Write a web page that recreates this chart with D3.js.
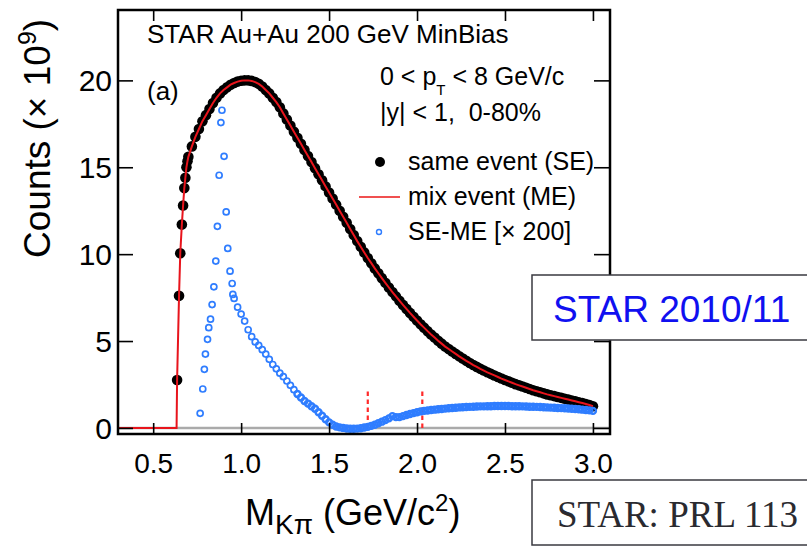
<!DOCTYPE html>
<meta charset="utf-8">
<body style="margin:0;background:#fff">
<script src="https://d3js.org/d3.v7.min.js"></script>
<script>

var width = 807,
    height = 546,
    margin = {top: 10, right: 197, bottom: 112, left: 118};

// same event (SE): first bins near threshold read one by one, then every 20 MeV
var seRiseMass = [0.636, 0.647, 0.654, 0.663, 0.670, 0.677, 0.683, 0.689, 0.695];
var seRiseCounts = [2.76, 7.6, 10.05, 11.7, 12.8, 13.8, 14.4, 15.0, 15.35];
var seStart = 0.70, seStep = 0.02;
var seCounts = [
  15.6, 16.2, 16.75, 17.2, 17.65, 18.0, 18.35, 18.7, 19.0, 19.25,
  19.45, 19.6, 19.75, 19.85, 19.93, 19.98, 20.0, 20.0, 19.97, 19.9,
  19.8, 19.65, 19.45, 19.25, 19.0, 18.75, 18.45, 18.1, 17.75, 17.4,
  17.05, 16.7, 16.35, 16.0, 15.65, 15.3, 14.95, 14.6, 14.25, 13.9,
  13.55, 13.2, 12.85, 12.5, 12.15, 11.8, 11.45, 11.1, 10.75, 10.42,
  10.1, 9.78, 9.48, 9.18, 8.9, 8.62, 8.35, 8.08, 7.82, 7.57,
  7.32, 7.08, 6.85, 6.62, 6.4, 6.18, 5.97, 5.77, 5.57, 5.38,
  5.2, 5.02, 4.85, 4.68, 4.54, 4.40, 4.26, 4.12, 3.99, 3.86,
  3.74, 3.62, 3.51, 3.40, 3.30, 3.20, 3.11, 3.02, 2.93, 2.84,
  2.76, 2.68, 2.60, 2.52, 2.45, 2.38, 2.31, 2.24, 2.17, 2.11,
  2.05, 1.99, 1.93, 1.88, 1.83, 1.78, 1.73, 1.68, 1.63, 1.58,
  1.53, 1.48, 1.43, 1.38, 1.32, 1.25
];

// mix event (ME): zero below the K-pi threshold, then follows SE
var meLowMass = [0.30, 0.633];
var meLowCounts = [0, 0];

// SE-ME [x 200]: K*(892) peak bins, then every 20 MeV
var diffPeakMass = [0.767, 0.782, 0.791, 0.797, 0.809, 0.816, 0.826, 0.835, 0.845, 0.856,
  0.865, 0.875, 0.885, 0.891, 0.903, 0.915, 0.924, 0.937, 0.949, 0.953];
var diffPeakCounts = [0.84, 2.24, 3.37, 4.25, 5.1, 5.77, 6.26, 7.1, 8.12, 9.6,
  11.6, 14.54, 17.57, 18.28, 15.63, 12.43, 10.33, 9.02, 8.31, 7.68];
var diffStart = 0.96, diffStep = 0.02;
var diffCounts = [
  7.45, 6.95, 6.55, 6.15, 5.65, 5.25, 4.95, 4.75, 4.5, 4.25,
  3.95, 3.65, 3.4, 3.15, 2.95, 2.7, 2.45, 2.2, 1.95, 1.75,
  1.55, 1.4, 1.25, 1.1, 0.9, 0.7, 0.5, 0.32, 0.18, 0.08,
  0.03, 0.0, -0.03, -0.05, -0.05, -0.04, -0.02, 0.02, 0.06, 0.12,
  0.18, 0.27, 0.36, 0.45, 0.55, 0.68, 0.62, 0.62, 0.68, 0.74,
  0.8, 0.85, 0.9, 0.95, 0.98, 1.0, 1.03, 1.05, 1.07, 1.09,
  1.11, 1.13, 1.15, 1.16, 1.18, 1.19, 1.2, 1.21, 1.22, 1.23,
  1.24, 1.24, 1.25, 1.25, 1.26, 1.26, 1.26, 1.26, 1.26, 1.25,
  1.25, 1.25, 1.24, 1.23, 1.22, 1.22, 1.21, 1.2, 1.19, 1.18,
  1.17, 1.16, 1.15, 1.14, 1.13, 1.12, 1.1, 1.09, 1.07, 1.05,
  1.03, 1.01, 0.98
];

// fit-window markers
var windowMass = [1.72, 2.03];
var windowTop = 2.2;

var xTicks = [0.5, 1.0, 1.5, 2.0, 2.5, 3.0];
var yTicks = [0, 5, 10, 15, 20];

// build point lists
var se = seRiseMass.map(function(m, i) { return [m, seRiseCounts[i]]; })
  .concat(seCounts.map(function(c, i) { return [seStart + i * seStep, c]; }));
var me = meLowMass.map(function(m, i) { return [m, meLowCounts[i]]; }).concat(se);
var diff = diffPeakMass.map(function(m, i) { return [m, diffPeakCounts[i]]; })
  .concat(diffCounts.map(function(c, i) { return [diffStart + i * diffStep, c]; }));

var x = d3.scaleLinear().domain([0.3, 3.097]).range([margin.left, width - margin.right]);
var y = d3.scaleLinear().domain([-0.35, 24.05]).range([height - margin.bottom, margin.top]);

var svg = d3.select("body").append("svg")
    .attr("width", width)
    .attr("height", height)
    .style("font-family", "'Liberation Sans', Arial, sans-serif");

// zero line
svg.append("line")
    .attr("x1", x(0.3)).attr("x2", x(3.097))
    .attr("y1", y(0)).attr("y2", y(0))
    .attr("stroke", "#aaa").attr("stroke-width", 2.5);

// dashed window lines
svg.selectAll(".win")
    .data(windowMass)
  .enter().append("line")
    .attr("x1", function(d) { return x(d); })
    .attr("x2", function(d) { return x(d); })
    .attr("y1", y(0)).attr("y2", y(windowTop))
    .attr("stroke", "#ff2a2a").attr("stroke-width", 2.2)
    .attr("stroke-dasharray", "4.5,3.5");

// SE dots
svg.append("g").selectAll("circle")
    .data(se)
  .enter().append("circle")
    .attr("cx", function(d) { return x(d[0]); })
    .attr("cy", function(d) { return y(d[1]); })
    .attr("r", 5.3)
    .attr("fill", "#000");

// ME line
svg.append("path")
    .datum(me)
    .attr("fill", "none")
    .attr("stroke", "#e8141c")
    .attr("stroke-width", 2)
    .attr("d", d3.line().x(function(d) { return x(d[0]); }).y(function(d) { return y(d[1]); }));

// SE-ME open circles
svg.append("g").selectAll("circle")
    .data(diff)
  .enter().append("circle")
    .attr("cx", function(d) { return x(d[0]); })
    .attr("cy", function(d) { return y(d[1]); })
    .attr("r", 3)
    .attr("fill", "none")
    .attr("stroke", "#2f7dff")
    .attr("stroke-width", function(d) { return d[0] > 1.3 ? 2.4 : 1.7; });

// axes with inward ticks
var gx = svg.append("g")
    .attr("transform", "translate(0," + (height - margin.bottom) + ")")
    .call(d3.axisBottom(x).tickValues(xTicks).tickFormat(d3.format(".1f"))
      .tickSizeInner(-11).tickSizeOuter(0).tickPadding(19));
var gxt = svg.append("g")
    .attr("transform", "translate(0," + margin.top + ")")
    .call(d3.axisTop(x).tickValues(xTicks).tickFormat("").tickSizeInner(-11).tickSizeOuter(0));
var gy = svg.append("g")
    .attr("transform", "translate(" + margin.left + ",0)")
    .call(d3.axisLeft(y).tickValues(yTicks).tickSizeInner(-15).tickSizeOuter(0).tickPadding(6));
var gyr = svg.append("g")
    .attr("transform", "translate(" + (width - margin.right) + ",0)")
    .call(d3.axisRight(y).tickValues(yTicks).tickFormat("").tickSizeInner(-16).tickSizeOuter(0));

[gx, gxt, gy, gyr].forEach(function(g) {
  g.select(".domain").remove();
  g.selectAll(".tick line").attr("stroke", "#000").attr("stroke-width", 1.6);
  g.selectAll("text").attr("fill", "#000").style("font-family", "'Liberation Sans', Arial, sans-serif");
});
gx.selectAll("text").style("font-size", "28px");
gy.selectAll("text").style("font-size", "30px").attr("dy", "0.35em");

// frame
svg.append("rect")
    .attr("x", margin.left).attr("y", margin.top)
    .attr("width", width - margin.left - margin.right)
    .attr("height", height - margin.top - margin.bottom)
    .attr("fill", "none").attr("stroke", "#000").attr("stroke-width", 2.5);

// axis titles
var yt = svg.append("text")
    .attr("transform", "translate(50,258) rotate(-90)")
    .style("font-size", "37px").attr("fill", "#000");
yt.append("tspan").text("Counts (\u00d7 10");
yt.append("tspan").attr("dy", -14).style("font-size", "25px").text("9");
yt.append("tspan").attr("dy", 14).text(")");

var xt = svg.append("text")
    .attr("x", 245).attr("y", 525)
    .style("font-size", "36px").attr("fill", "#000");
xt.append("tspan").text("M");
xt.append("tspan").attr("dy", 9).style("font-size", "28px").text("K\u03c0");
xt.append("tspan").attr("dy", -9).text(" (GeV/c");
xt.append("tspan").attr("dy", -14).style("font-size", "24px").text("2");
xt.append("tspan").attr("dy", 14).text(")");

// labels in the plot
svg.append("text").attr("x", 147).attr("y", 43)
    .style("font-size", "26px").text("STAR Au+Au 200 GeV MinBias");
svg.append("text").attr("x", 147).attr("y", 100)
    .style("font-size", "26px").text("(a)");

var pt = svg.append("text").attr("x", 380).attr("y", 85).style("font-size", "25px");
pt.append("tspan").text("0 < p");
pt.append("tspan").attr("dy", 10).style("font-size", "15px").text("T");
pt.append("tspan").attr("dy", -10).text(" < 8 GeV/c");
svg.append("text").attr("x", 380).attr("y", 121)
    .style("font-size", "25px").style("white-space", "pre").text("|y| < 1,  0-80%");

// legend
svg.append("circle").attr("cx", 380).attr("cy", 162).attr("r", 5).attr("fill", "#000");
svg.append("text").attr("x", 408).attr("y", 170).style("font-size", "25px").text("same event (SE)");
svg.append("line").attr("x1", 359).attr("x2", 400).attr("y1", 197).attr("y2", 197)
    .attr("stroke", "#f05050").attr("stroke-width", 2);
svg.append("text").attr("x", 408).attr("y", 205).style("font-size", "25px").text("mix event (ME)");
svg.append("circle").attr("cx", 379).attr("cy", 232).attr("r", 2.5)
    .attr("fill", "none").attr("stroke", "#2f7dff").attr("stroke-width", 1.4);
svg.append("text").attr("x", 408).attr("y", 240).style("font-size", "25px").text("SE-ME [\u00d7 200]");

// overlay boxes
svg.append("rect").attr("x", 532).attr("y", 275).attr("width", 300).attr("height", 65)
    .attr("fill", "#fff").attr("stroke", "#3a3a40").attr("stroke-width", 1.5);
svg.append("text").attr("x", 553).attr("y", 322)
    .style("font-size", "37px").attr("fill", "#1010f0").text("STAR 2010/11");

svg.append("rect").attr("x", 532).attr("y", 480).attr("width", 300).attr("height", 65)
    .attr("fill", "#fff").attr("stroke", "#3a3a40").attr("stroke-width", 1.5);
svg.append("text").attr("x", 557).attr("y", 527)
    .style("font-family", "'Liberation Serif', 'Times New Roman', serif")
    .style("font-size", "37px").attr("fill", "#2a2a30").text("STAR: PRL 113");

</script>
